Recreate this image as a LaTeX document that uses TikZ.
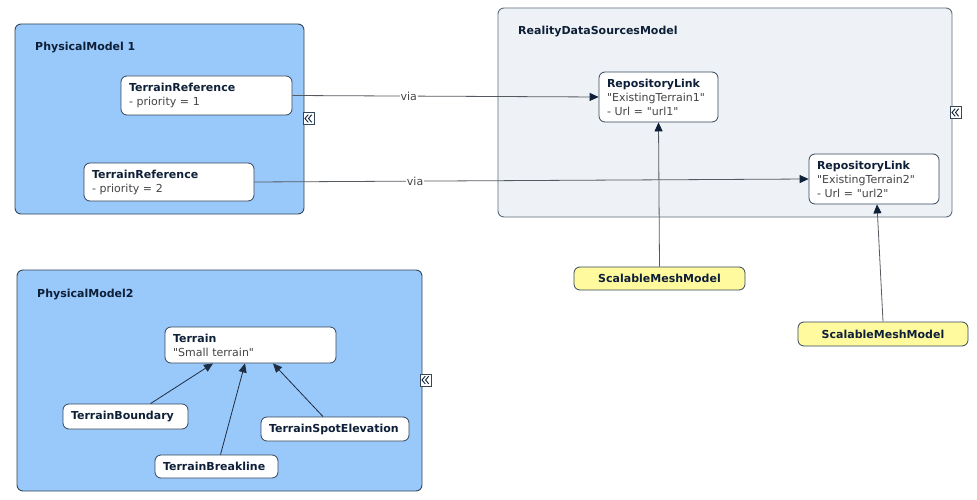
\documentclass[tikz,border=0pt]{standalone}
\usepackage{fontspec}
\setmainfont{DejaVu Sans}[Ligatures=TeXOff]
\usetikzlibrary{arrows.meta}
\definecolor{pmblue}{HTML}{99C8FA}
\definecolor{rdsgray}{HTML}{EEF2F6}
\definecolor{smmyellow}{HTML}{FFFA9E}
\definecolor{navy}{HTML}{0E1F38}
\definecolor{edge}{HTML}{34465A}
\definecolor{txtgray}{HTML}{444444}
\definecolor{linegray}{HTML}{555A60}
\tikzset{
  basefont/.style={font=\fontsize{11}{14}\selectfont},
  container/.style={draw=edge, line width=0.9pt, rounded corners=6pt, inner sep=0pt},
  title/.style={anchor=west, inner sep=0pt, text=navy, font=\fontsize{11}{14}\selectfont\bfseries},
  elem/.style={basefont, draw=edge, line width=0.8pt, fill=white, rounded corners=6pt,
    inner xsep=8pt, inner ysep=0pt, align=left, text=navy},
  smm/.style={draw=edge, line width=0.8pt, fill=smmyellow, rounded corners=6pt,
    inner sep=0pt, align=center, text=navy, font=\fontsize{11}{14}\selectfont\bfseries},
  icon/.style={draw=edge, fill=white, line width=0.7pt, inner sep=0pt, minimum width=11pt,
    minimum height=12pt},
  chevron/.style={draw=navy, line width=0.9pt, line join=miter},
  conn/.style={draw=linegray, line width=0.8pt, -{Triangle[length=9pt,width=8pt,color=navy,fill=navy]}},
  inher/.style={draw=navy!85!gray, line width=0.8pt, -{Triangle[length=9pt,width=8pt]}},
  vialbl/.style={basefont, fill=white, inner sep=1pt, text=txtgray}
}
\newcommand{\gr}[1]{{\color{txtgray}#1}}
\newcommand{\chevrons}[1]{%
  \draw[chevron] ([shift={(-0.3,-3.8)}]#1.center) -- ++(-3.2,3.8) -- ++(3.2,3.8);
  \draw[chevron] ([shift={(3.2,-3.8)}]#1.center) -- ++(-3.2,3.8) -- ++(3.2,3.8);}
\begin{document}
\begin{tikzpicture}[x=1pt,y=-1pt]
\useasboundingbox[fill=white] (0,0) rectangle (977,500);

% containers
\node[container, fill=pmblue, minimum width=289pt, minimum height=190pt] (pm1) at (159.5,119) {};
\node[container, fill=rdsgray, draw=edge!80, minimum width=454pt, minimum height=209pt] (rds) at (725,112.5) {};
\node[container, fill=pmblue, minimum width=405pt, minimum height=221pt] (pm2) at (219.5,380.5) {};

\node[title] (t1) at (35,48) {PhysicalModel 1};
\node[title] (t2) at (518,32) {RealityDataSourcesModel};
\node[title] (t3) at (37,295) {PhysicalModel2};

% collapse icons
\node[icon] (ic1) at (308.5,118.5) {};
\node[icon] (ic2) at (955.5,112.5) {};
\node[icon] (ic3) at (425.5,380) {};
\chevrons{ic1}
\chevrons{ic2}
\chevrons{ic3}

% elements
\node[elem, text width=155pt, minimum height=39pt] (tr1) at (206.5,95.5)
  {\textbf{TerrainReference}\\\gr{- priority = 1}};
\node[elem, text width=154pt, minimum height=38pt] (tr2) at (169,182)
  {\textbf{TerrainReference}\\\gr{- priority = 2}};
\node[elem, text width=103pt, minimum height=50pt] (rl1) at (658.5,97)
  {\textbf{RepositoryLink}\\\gr{"ExistingTerrain1"}\\\gr{- Url = "url1"}};
\node[elem, text width=114pt, minimum height=50pt] (rl2) at (874,179)
  {\textbf{RepositoryLink}\\\gr{"ExistingTerrain2"}\\\gr{- Url = "url2"}};

\node[smm, minimum width=171pt, minimum height=23pt] (smm1) at (659.5,278.5) {ScalableMeshModel};
\node[smm, minimum width=170pt, minimum height=24pt] (smm2) at (883,334) {ScalableMeshModel};

\node[elem, text width=155pt, minimum height=36pt] (ter) at (250.5,345)
  {\textbf{Terrain}\\\gr{"Small terrain"}};
\node[elem, text width=109pt, minimum height=25pt] (tb) at (125.5,416.5) {\textbf{TerrainBoundary}};
\node[elem, text width=107pt, minimum height=23pt] (tbl) at (216.5,466.5) {\textbf{TerrainBreakline}};
\node[elem, text width=132pt, minimum height=24pt] (tse) at (335,429) {\textbf{TerrainSpotElevation}};

% connectors
\draw[conn] (tr1.east) -- node[vialbl, pos=0.38] (via1) {via} (rl1.west);
\draw[conn] (tr2.east) -- node[vialbl, pos=0.29] (via2) {via} (rl2.west);
\draw[conn] (smm1.north) -- (rl1.south);
\draw[conn] (smm2.north) -- ([xshift=3pt]rl2.south);

\draw[inher] ([xshift=25pt]tb.north) -- ([xshift=-37.5pt]ter.south);
\draw[inher] ([xshift=4pt]tbl.north) -- ([xshift=-5.5pt]ter.south);
\draw[inher] ([xshift=-12pt]tse.north) -- ([xshift=22.5pt]ter.south);
\end{tikzpicture}
\end{document}
